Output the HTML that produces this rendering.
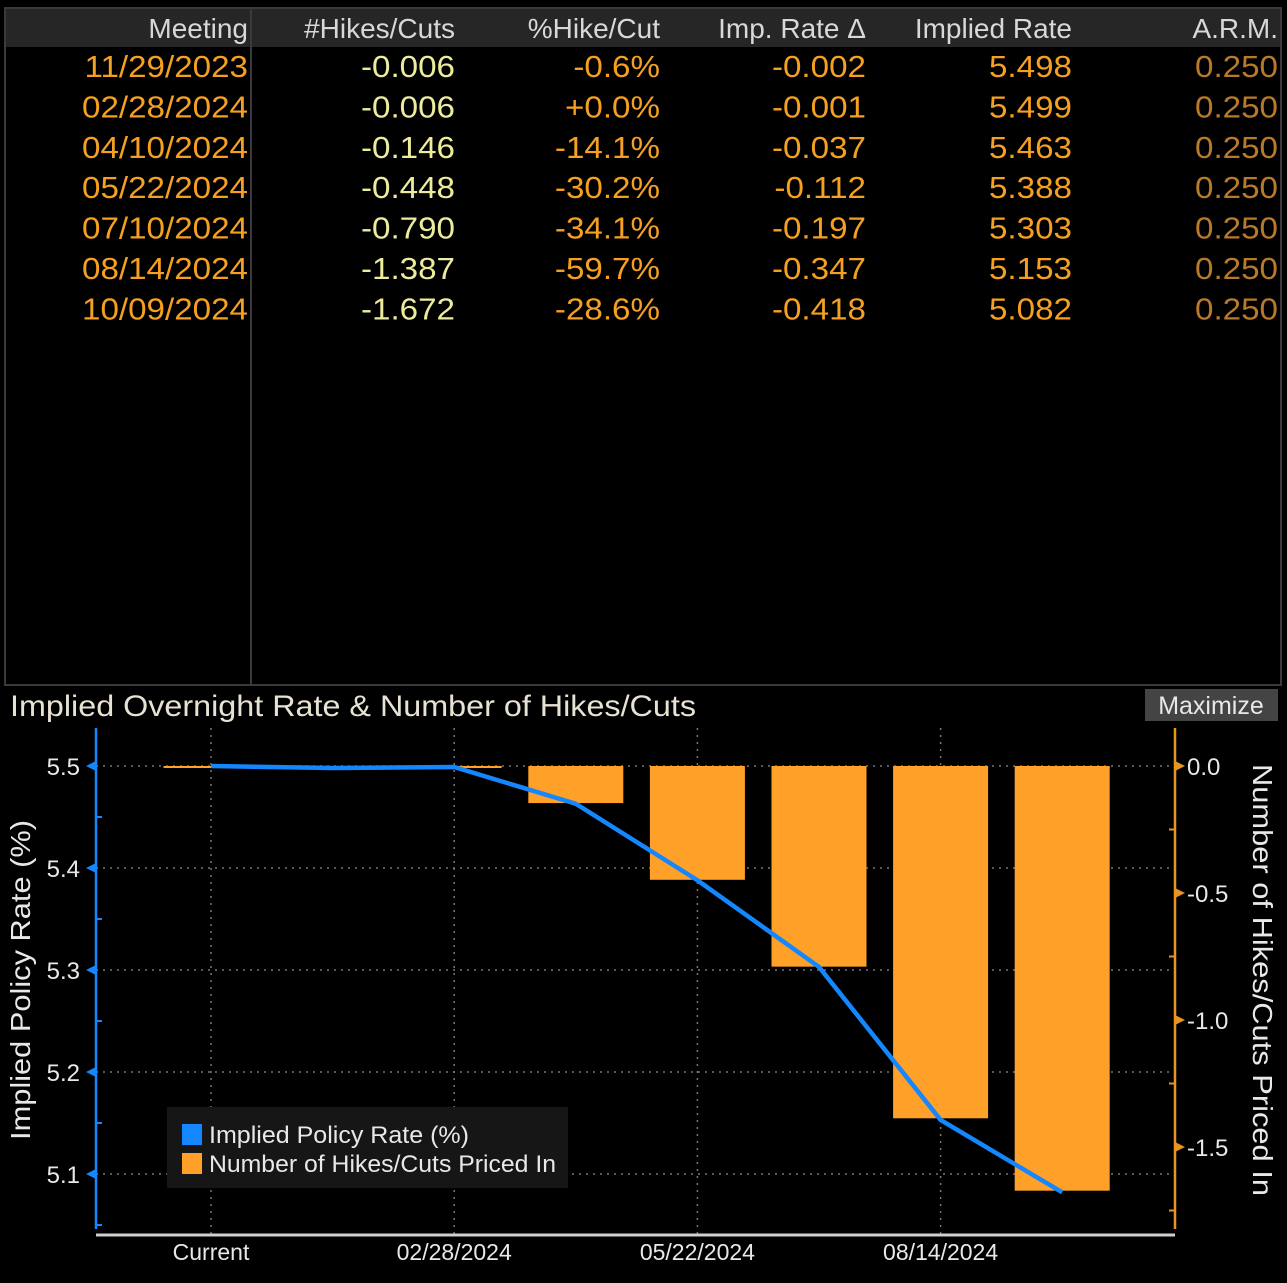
<!DOCTYPE html>
<html><head><meta charset="utf-8"><style>
body{margin:0;background:#000;width:1287px;height:1278px;overflow:hidden;font-family:"Liberation Sans",sans-serif}
</style></head><body>
<svg width="1287" height="1278" xmlns="http://www.w3.org/2000/svg" font-family="Liberation Sans, sans-serif">
<g id="table">
 <rect x="5" y="8" width="1276" height="677" fill="none" stroke="#3a3a3a" stroke-width="2"/>
 <rect x="6" y="9" width="1274" height="38" fill="#262626"/>
 <line x1="251" y1="8" x2="251" y2="685" stroke="#3a3a3a" stroke-width="2"/>
</g>
<g id="chart"></g>
<text x="10" y="716" font-size="30" fill="#e8e2d4" textLength="686" lengthAdjust="spacingAndGlyphs">Implied Overnight Rate &amp; Number of Hikes/Cuts</text>
<rect x="1145" y="689" width="133" height="32" fill="#444"/>
<text x="1211" y="714" font-size="25" fill="#e8e8e8" text-anchor="middle">Maximize</text>
<script>
const meetings=["11/29/2023","02/28/2024","04/10/2024","05/22/2024","07/10/2024","08/14/2024","10/09/2024"];
const hikes=["-0.006","-0.006","-0.146","-0.448","-0.790","-1.387","-1.672"];
const pct=["-0.6%","+0.0%","-14.1%","-30.2%","-34.1%","-59.7%","-28.6%"];
const impDelta=["-0.002","-0.001","-0.037","-0.112","-0.197","-0.347","-0.418"];
const impRate=["5.498","5.499","5.463","5.388","5.303","5.153","5.082"];
const arm=["0.250","0.250","0.250","0.250","0.250","0.250","0.250"];
const headers=["Meeting","#Hikes/Cuts","%Hike/Cut","Imp. Rate \u0394","Implied Rate","A.R.M."];

const categories=["Current","11/29/2023","02/28/2024","04/10/2024","05/22/2024","07/10/2024","08/14/2024","10/09/2024"];
const rateValues=[5.5,5.498,5.499,5.463,5.388,5.303,5.153,5.082];
const hikeValues=[0,-0.006,-0.006,-0.146,-0.448,-0.790,-1.387,-1.672];
const leftTicks=[5.5,5.4,5.3,5.2,5.1];
const rightTicks=[0.0,-0.5,-1.0,-1.5];
const xTickLabels=["Current","02/28/2024","05/22/2024","08/14/2024"];

const NS="http://www.w3.org/2000/svg";
const svg=document.querySelector('svg');
function mk(tag,attrs,parent){const e=document.createElementNS(NS,tag);for(const k in attrs)e.setAttribute(k,attrs[k]);(parent||svg).appendChild(e);return e;}

// table
const tbl=document.getElementById('table');
const colRight=[250,457,662,868,1074,1280];
const colColor=["#f5a020","#ecec9c","#f5a020","#f5a020","#f5a020","#b87a2a"];
const cols=[meetings,hikes,pct,impDelta,impRate,arm];
headers.forEach((h,i)=>{
 const t=mk('text',{x:colRight[i]-2,y:38,'font-size':28,fill:'#d8d8d8','text-anchor':'end'},tbl);
 
 
 t.textContent=h;
});
cols.forEach((col,c)=>col.forEach((v,r)=>{
 const t=mk('text',{x:colRight[c]-2,y:77+r*40.4,'font-size':31,fill:colColor[c],'text-anchor':'end',transform:`translate(${(colRight[c]-2)*-0.07},0) scale(1.07,1)`},tbl);
 
 
 t.textContent=v;
}));

// chart
const ch=document.getElementById('chart');
const L=96,R=1175,B=1235,T=728;
const x0=211,dx=121.6;
const xPos=i=>x0+i*dx;
const yL=v=>766+(5.5-v)*1020;
const yR=v=>766-v*254;

leftTicks.forEach(v=>{
 const g=mk('line',{x1:L,x2:R,y1:yL(v),y2:yL(v),stroke:'#777','stroke-dasharray':'2,5','stroke-width':1.5},ch);
 
 
});
xTickLabels.forEach(lbl=>{
 const i=categories.indexOf(lbl);
 const g=mk('line',{x1:xPos(i),x2:xPos(i),y1:T,y2:B,stroke:'#777','stroke-dasharray':'2,5','stroke-width':1.5},ch);
 
 
});
const bw=95;
hikeValues.forEach((v,i)=>{
 const y0=yR(0),y1=yR(v);
 const b=mk('rect',{x:xPos(i)-bw/2,y:y0,width:bw,height:Math.max(2,y1-y0),fill:'#ffa128'},ch);
 
 
});
const pl=mk('polyline',{points:rateValues.map((v,i)=>xPos(i)+','+yL(v)).join(' '),fill:'none',stroke:'#1487ff','stroke-width':4.5,'stroke-linejoin':'round'},ch);


const la=mk('line',{x1:L,x2:L,y1:T,y2:B-6,stroke:'#1487ff','stroke-width':2.5},ch);


const ra=mk('line',{x1:R,x2:R,y1:T,y2:B-6,stroke:'#e8951e','stroke-width':2.5},ch);


const ba=mk('line',{x1:L,x2:R,y1:B,y2:B,stroke:'#cfcfcf','stroke-width':3},ch);


leftTicks.forEach(v=>{
 const y=yL(v);
 const m=mk('polygon',{points:`${L},${y-5} ${L},${y+5} ${L-10},${y}`,fill:'#1487ff'},ch);
 
 
 const mm=mk('line',{x1:L,x2:L+6,y1:y+51,y2:y+51,stroke:'#1487ff','stroke-width':2},ch);
 
 
 const t=mk('text',{x:L-16,y:y+9,'font-size':24,fill:'#e8e8e8','text-anchor':'end'},ch);
 
 
 t.textContent=v.toFixed(1);
});
rightTicks.forEach(v=>{
 const y=yR(v);
 const m=mk('polygon',{points:`${R},${y-5} ${R},${y+5} ${R+10},${y}`,fill:'#e8951e'},ch);
 
 
 const mm=mk('line',{x1:R-6,x2:R,y1:y+63.5,y2:y+63.5,stroke:'#e8951e','stroke-width':2},ch);
 
 
 const t=mk('text',{x:R+12,y:y+9,'font-size':24,fill:'#e8e8e8'},ch);
 
 
 t.textContent=v.toFixed(1);
});
xTickLabels.forEach(lbl=>{
 const i=categories.indexOf(lbl);
 const t=mk('text',{x:xPos(i),y:1260,'font-size':23,fill:'#e8e8e8','text-anchor':'middle'},ch);
 
 
 t.textContent=lbl;
});
const yt=mk('text',{transform:'translate(30,980) rotate(-90)','font-size':28,fill:'#e8e8e8','text-anchor':'middle',textLength:320,lengthAdjust:'spacingAndGlyphs'},ch);


yt.textContent='Implied Policy Rate (%)';
const rt=mk('text',{transform:'translate(1253,980) rotate(90)','font-size':28,fill:'#e8e8e8','text-anchor':'middle',textLength:432,lengthAdjust:'spacingAndGlyphs'},ch);


rt.textContent='Number of Hikes/Cuts Priced In';
const lg=mk('g',{},ch);


const lb=mk('rect',{x:167,y:1107,width:401,height:81,fill:'#161616'},lg);


[['Implied Policy Rate (%)','#1487ff',260],['Number of Hikes/Cuts Priced In','#ffa128',347]].forEach((e,i)=>{
 const s=mk('rect',{x:182,y:1124+i*29,width:20,height:21,fill:e[1]},lg);
 
 
 const t=mk('text',{x:209,y:1143+i*29,'font-size':24,fill:'#e8e8e8',textLength:e[2],lengthAdjust:'spacingAndGlyphs'},lg);
 
 
 t.textContent=e[0];
});
</script>
</svg>
</body></html>
